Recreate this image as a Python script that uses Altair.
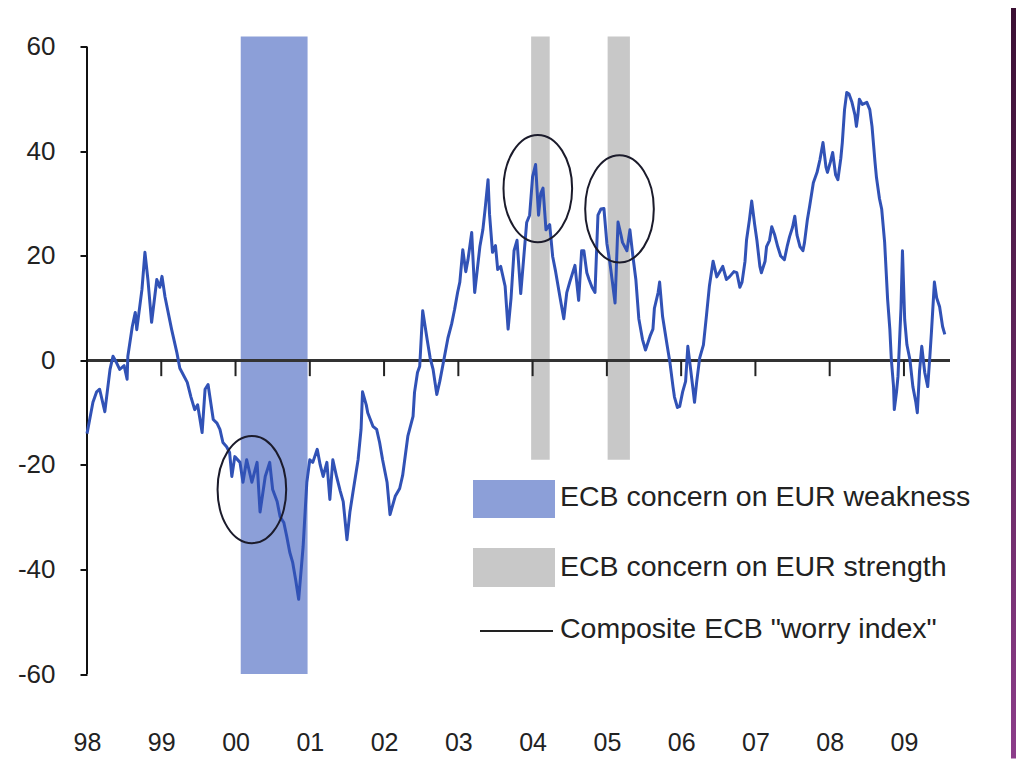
import altair as alt
import pandas as pd

# ---- data ----
idx_1998 = [(1998.00,-14),(1998.04,-11),(1998.08,-8),(1998.13,-6),(1998.17,-5.5),(1998.24,-9.8),(1998.31,-1.7),(1998.35,0.8),(1998.40,-0.5),(1998.44,-1.7),(1998.50,-1),(1998.54,-3.6),(1998.55,0.8),(1998.61,6.5),(1998.65,9.2),(1998.67,5.9),(1998.74,13.6),(1998.78,20.7),(1998.82,15.5),(1998.87,7.3),(1998.94,15.5),(1998.98,14)]
idx_1999 = [(1999.01,16.1),(1999.05,12.2),(1999.14,5.9),(1999.21,1.5),(1999.25,-1.5),(1999.35,-4.2),(1999.40,-7),(1999.45,-9.4),(1999.49,-8.5),(1999.55,-13.8),(1999.59,-5.5),(1999.63,-4.6),(1999.70,-11.3),(1999.75,-12),(1999.79,-13.2),(1999.83,-15.7),(1999.88,-16.5),(1999.92,-17.6),(1999.95,-22.2),(1999.99,-18.4)]
idx_2000 = [(2000.06,-19.5),(2000.10,-23.3),(2000.15,-19),(2000.22,-23.3),(2000.29,-19.5),(2000.33,-29),(2000.40,-22.2),(2000.46,-19.5),(2000.50,-24.7),(2000.56,-27),(2000.60,-29.9),(2000.65,-31),(2000.69,-33.7),(2000.73,-36.7),(2000.77,-38.7),(2000.81,-42),(2000.85,-45.7),(2000.91,-35.6),(2000.96,-23.3)]
idx_2001 = [(2001.00,-19),(2001.04,-19.5),(2001.10,-17),(2001.14,-20),(2001.18,-22.2),(2001.23,-19.5),(2001.27,-26.6),(2001.31,-19),(2001.36,-22.2),(2001.41,-25),(2001.45,-27),(2001.50,-34.3),(2001.54,-29),(2001.58,-25.3),(2001.65,-19),(2001.69,-13.2),(2001.71,-6),(2001.76,-8.5),(2001.78,-10),(2001.85,-12.6),(2001.90,-13.2),(2001.94,-15.7),(2001.98,-19)]
idx_2002 = [(2002.04,-23.3),(2002.08,-29.5),(2002.15,-26),(2002.21,-24.5),(2002.25,-22),(2002.32,-14.5),(2002.39,-10.7),(2002.41,-6.1),(2002.45,-2.3),(2002.48,-1.1),(2002.52,9.5),(2002.58,4),(2002.62,0.5),(2002.66,-1.7),(2002.71,-6.5),(2002.75,-4),(2002.79,-1),(2002.86,4.3),(2002.91,7),(2002.95,9.8),(2002.99,13)]
idx_2003 = [(2003.02,15),(2003.06,21.2),(2003.10,17),(2003.13,19.3),(2003.18,24.5),(2003.22,13),(2003.26,18),(2003.29,21.8),(2003.33,25),(2003.36,28.9),(2003.40,34.6),(2003.42,28),(2003.46,20.7),(2003.50,22),(2003.53,17.4),(2003.57,18),(2003.63,14.2),(2003.67,6),(2003.71,12),(2003.75,21),(2003.79,23),(2003.84,12.8),(2003.90,23),(2003.92,26.4),(2003.96,27.8)]
idx_2004 = [(2004.00,35.2),(2004.04,37.5),(2004.08,27.8),(2004.11,32),(2004.14,33),(2004.18,25),(2004.23,26),(2004.27,19.9),(2004.31,17),(2004.37,12),(2004.42,8),(2004.46,13),(2004.50,15),(2004.57,18.2),(2004.62,11.5),(2004.66,21),(2004.69,21),(2004.73,16.8),(2004.76,15.5),(2004.80,14),(2004.84,13),(2004.88,27.8),(2004.92,29),(2004.96,29.1)]
idx_2005 = [(2005.00,22.4),(2005.04,18.8),(2005.07,15.5),(2005.11,11),(2005.15,26.5),(2005.19,24),(2005.21,22.6),(2005.27,21),(2005.31,25),(2005.35,20),(2005.39,15.5),(2005.43,8),(2005.48,4),(2005.52,2),(2005.58,4.6),(2005.62,6),(2005.64,10),(2005.69,13),(2005.71,15),(2005.75,8.4),(2005.81,3),(2005.85,-0.5),(2005.89,-5),(2005.91,-7),(2005.95,-9),(2005.98,-8.8)]
idx_2006 = [(2006.02,-6),(2006.06,-4),(2006.09,2.7),(2006.13,-2),(2006.16,-5.5),(2006.18,-8),(2006.21,-4),(2006.25,0.5),(2006.30,3),(2006.34,8.5),(2006.38,14.2),(2006.43,19),(2006.48,16),(2006.52,17),(2006.56,18),(2006.61,15.5),(2006.65,16),(2006.71,17),(2006.75,16.8),(2006.79,14),(2006.82,15),(2006.86,19),(2006.88,23),(2006.92,27),(2006.95,30.5),(2006.99,26)]
idx_2007 = [(2007.02,23),(2007.06,18),(2007.08,16.8),(2007.13,19),(2007.15,21.8),(2007.19,23),(2007.22,25.6),(2007.26,24),(2007.30,21.8),(2007.34,20),(2007.39,19.3),(2007.43,22),(2007.46,23.7),(2007.50,25.5),(2007.53,27.6),(2007.56,24),(2007.60,21.8),(2007.64,21),(2007.66,22.5),(2007.70,27),(2007.73,29.5),(2007.78,34),(2007.83,36),(2007.87,38.5),(2007.91,41.7),(2007.95,37),(2007.97,36)]
idx_2008 = [(2008.01,38),(2008.04,39.8),(2008.08,35.5),(2008.11,34.6),(2008.15,38.7),(2008.17,41.7),(2008.20,48),(2008.23,51.3),(2008.26,51),(2008.30,49.4),(2008.34,47),(2008.36,44.8),(2008.38,47),(2008.40,50),(2008.44,49),(2008.50,49.4),(2008.54,48),(2008.57,44.8),(2008.61,38),(2008.63,35),(2008.67,31),(2008.70,29),(2008.74,22.6),(2008.78,11.7),(2008.81,6),(2008.83,0.2),(2008.86,-5),(2008.87,-9.4),(2008.90,-6),(2008.92,-3),(2008.96,10),(2008.98,21)]
idx_2009 = [(2009.01,7.8),(2009.04,3),(2009.08,0.2),(2009.12,-5),(2009.16,-8),(2009.18,-10),(2009.21,-2),(2009.24,2.7),(2009.28,-2.3),(2009.32,-5),(2009.35,1),(2009.37,5.4),(2009.41,15),(2009.44,12),(2009.48,10.3),(2009.52,6.5),(2009.55,5)]

weakness_start = [2000.07]
weakness_end = [2000.97]
strength_start = [2003.98, 2005.01]
strength_end = [2004.23, 2005.31]

circle_t = [2000.22, 2004.07, 2005.17]
circle_v = [-24.7, 32.9, 29.0]

year_ticks = list(range(1998, 2010))
y_ticks = [-60, -40, -20, 0, 20, 40, 60]
x_domain = [1998, 2009.62]
y_domain = [-60, 62]

legend_labels = ["ECB concern on EUR weakness", "ECB concern on EUR strength", 'Composite ECB "worry index"']

# ---- build ----
series = idx_1998 + idx_1999 + idx_2000 + idx_2001 + idx_2002 + idx_2003 + idx_2004 + idx_2005 + idx_2006 + idx_2007 + idx_2008 + idx_2009
df = pd.DataFrame(series, columns=["t", "v"])

FONT = "Liberation Sans"
BLUE_BAND = "#8c9fd8"
GRAY_BAND = "#c8c8c8"
LINE_COL = "#3152b6"

xs = alt.Scale(domain=x_domain, nice=False, zero=False)
ys = alt.Scale(domain=y_domain, nice=False, zero=False)

AX_X = alt.Axis(values=year_ticks, labelExpr="slice(toString(datum.value), 2)",
                domain=False, ticks=False, grid=False, labelPadding=56, title=None,
                labelFlush=False, labelOverlap=False,
                labelFontSize=25, labelFont=FONT, labelColor="#222222")
AX_Y = alt.Axis(values=y_ticks, labelExpr="toString(datum.value)",
                domain=False, ticks=True, tickSize=7, tickWidth=2,
                tickColor="#111111", grid=False, labelPadding=25, title=None,
                labelFlush=False, labelOverlap=False,
                labelFontSize=26, labelFont=FONT, labelColor="#222222")


def X(field):
    return alt.X(field, scale=xs, axis=AX_X, title=None)


def Y(field):
    return alt.Y(field, scale=ys, axis=AX_Y, title=None)


weak_df = pd.DataFrame({"a": weakness_start, "b": weakness_end, "lo": [y_domain[0]], "hi": [y_domain[1]]})
str_df = pd.DataFrame({"a": strength_start, "b": strength_end, "lo": [-19] * 2, "hi": [y_domain[1]] * 2})

weak = alt.Chart(weak_df).mark_rect(color=BLUE_BAND).encode(
    x=X("a:Q"), x2="b:Q", y=Y("lo:Q"), y2="hi:Q")
strong = alt.Chart(str_df).mark_rect(color=GRAY_BAND).encode(
    x=X("a:Q"), x2="b:Q", y=Y("lo:Q"), y2="hi:Q")

zero_df = pd.DataFrame({"a": [x_domain[0]], "b": [x_domain[1]], "y": [0]})
zero = alt.Chart(zero_df).mark_rule(color="#333333", strokeWidth=3).encode(
    x=X("a:Q"), x2="b:Q", y=Y("y:Q"))

tick_df = pd.DataFrame({"t": year_ticks[1:], "y0": 0, "y1": -3})
xticks = alt.Chart(tick_df).mark_rule(color="#222222", strokeWidth=2).encode(
    x=X("t:Q"), y=Y("y0:Q"), y2="y1:Q")

yaxis_df = pd.DataFrame({"t": [x_domain[0]], "lo": [y_ticks[0]], "hi": [y_ticks[-1]]})
yaxis = alt.Chart(yaxis_df).mark_rule(color="#111111", strokeWidth=2).encode(
    x=X("t:Q"), y=Y("lo:Q"), y2="hi:Q")

line = alt.Chart(df).mark_line(color=LINE_COL, strokeWidth=3, strokeJoin="round").encode(
    x=X("t:Q"), y=Y("v:Q"), order="t:Q")

ellipse = "M -0.64 0 A 0.64 1 0 1 0 0.64 0 A 0.64 1 0 1 0 -0.64 0 Z"
circ_df = pd.DataFrame({"t": circle_t, "v": circle_v})
circles = alt.Chart(circ_df).mark_point(shape=ellipse, filled=False, size=11500,
                                         stroke="#1b1b2b", strokeWidth=2, opacity=1).encode(
    x=X("t:Q"), y=Y("v:Q"))

one = pd.DataFrame({"k": [0]})
leg_w_sw = alt.Chart(one).mark_rect(color=BLUE_BAND).encode(
    x=alt.value(386), x2=alt.value(468), y=alt.value(443.5), y2=alt.value(481.5))
leg_s_sw = alt.Chart(one).mark_rect(color=GRAY_BAND).encode(
    x=alt.value(386), x2=alt.value(468), y=alt.value(511.5), y2=alt.value(550.5))
leg_l_sw = alt.Chart(one).mark_rule(color="#222222", strokeWidth=2).encode(
    x=alt.value(393), x2=alt.value(466), y=alt.value(594.5))


def leg_text(label, ypos):
    return alt.Chart(pd.DataFrame({"label": [label]})).mark_text(
        align="left", baseline="middle", font=FONT, fontSize=28.5, color="#222222").encode(
        x=alt.value(473), y=alt.value(ypos), text="label:N")


lt1 = leg_text(legend_labels[0], 460)
lt2 = leg_text(legend_labels[1], 530)
lt3 = leg_text(legend_labels[2], 592)

strip = alt.Chart(one).mark_rect(
    fill=alt.Gradient(gradient="linear", x1=0, x2=0, y1=0, y2=1,
                      stops=[alt.GradientStop(color="#3a0f33", offset=0),
                             alt.GradientStop(color="#8c3d8a", offset=1)])).encode(
    x=alt.value(924), x2=alt.value(929), y=alt.value(-29), y2=alt.value(722))

chart = alt.layer(
    weak, strong, zero, xticks, yaxis, line, circles,
    leg_w_sw, leg_s_sw, leg_l_sw, lt1, lt2, lt3, strip
).properties(
    width=863, height=637.5,
    padding={"left": 79, "top": 28.5, "right": 66, "bottom": 85},
    autosize=alt.AutoSizeParams(type="none"),
    background="white",
).configure_view(stroke=None)

chart.save("out.html", embed_options={"renderer": "svg", "actions": False})
